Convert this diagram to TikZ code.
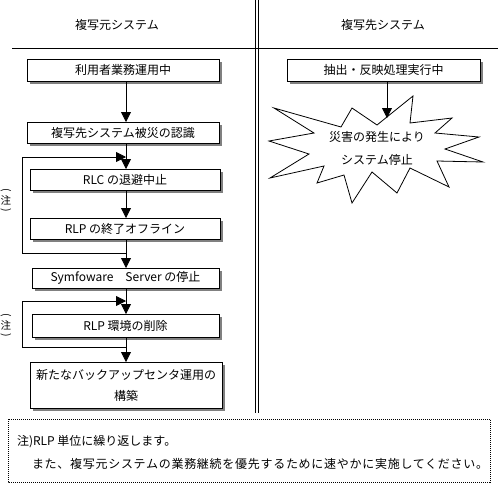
\documentclass[tikz,border=0pt]{standalone}
\usepackage{fontspec}
\setmainfont{Noto Sans CJK JP}
\usetikzlibrary{arrows.meta,shadows}
\begin{document}
\begin{tikzpicture}[x=1pt,y=-1pt,
  every node/.style={inner sep=0pt,outer sep=0pt,font=\fontsize{12pt}{14pt}\selectfont},
  stepbox/.style={draw=black,line width=0.8pt,fill=white,anchor=north west,
    drop shadow={shadow xshift=3pt,shadow yshift=-3pt,fill=black!50,opacity=1}},
  conn/.style={draw=black,line width=0.8pt},
  arr/.style={conn,-{Triangle[width=10pt,length=10pt]}},
  note/.style={font=\fontsize{10.5pt}{12pt}\selectfont}
]
\useasboundingbox (0,0) rectangle (498,483);
% frame lines
\draw[line width=0.8pt] (12,48) -- (498,48);
\draw[line width=0.8pt] (255.5,0) -- (255.5,413);
\draw[line width=0.8pt] (258,0) -- (258,413);
% headers
\node (hL) at (117,25) {複写元システム};
\node (hR) at (383,25) {複写先システム};
% spine coordinate
\coordinate (spine) at (126,0);
% left boxes
\node[stepbox,minimum width=192pt,minimum height=22pt] (b1) at (27,59) {利用者業務運用中};
\node[stepbox,minimum width=192pt,minimum height=21pt] (b2) at (27,122) {複写先システム被災の認識};
\node[stepbox,minimum width=190pt,minimum height=21pt] (b3) at (30,169) {RLC の退避中止};
\node[stepbox,minimum width=190pt,minimum height=21pt] (b4) at (30,218) {RLP の終了オフライン};
\node[stepbox,minimum width=187pt,minimum height=20pt] (b5) at (32,268) {Symfoware　Server の停止};
\node[stepbox,minimum width=187pt,minimum height=23pt] (b6) at (32,314) {RLP 環境の削除};
\node[stepbox,minimum width=192pt,minimum height=46pt,align=center,
  font=\fontsize{12pt}{21pt}\selectfont] (b7) at (30,362) {新たなバックアップセンタ運用の\\構築};
% spine arrows
\draw[arr] (b1.south -| spine) -- (b2.north -| spine);
\draw[arr] (b2.south -| spine) -- (b3.north -| spine);
\draw[arr] (b3.south -| spine) -- (b4.north -| spine);
\draw[arr] (b4.south -| spine) -- (b5.north -| spine);
\draw[arr] (b5.south -| spine) -- (b6.north -| spine);
\draw[arr] (b6.south -| spine) -- (b7.north -| spine);
% loops
\coordinate (j1) at (126,157);
\coordinate (l1a) at (22,157);
\coordinate (l1b) at (22,253);
\coordinate (k1) at (126,253);
\draw[arr] (k1) -- (l1b) -- (l1a) -- (j1);
\coordinate (j2) at (126,301);
\coordinate (l2a) at (22,301);
\coordinate (l2b) at (22,347);
\coordinate (k2) at (126,347);
\draw[arr] (k2) -- (l2b) -- (l2a) -- (j2);
% vertical notes
\node[note,rotate=-90] (n1o) at (6,190) {(};
\node[note] (n1) at (6,200) {注};
\node[note,rotate=-90] (n1c) at (6,210) {)};
\node[note,rotate=-90] (n2o) at (6,315) {(};
\node[note] (n2) at (6,325) {注};
\node[note,rotate=-90] (n2c) at (6,335) {)};
% right side
\node[stepbox,minimum width=193pt,minimum height=22pt] (r1) at (287,59) {抽出・反映処理実行中};
\draw[line width=0.8pt,fill=white] (274,108) -- (341,127) -- (352,108) -- (377,125) -- (413,96)
  -- (410,123) -- (452,118) -- (435,133) -- (479,137) -- (445,149) -- (483,162)
  -- (437,161) -- (449,187) -- (410,168) -- (397,193) -- (372,172) -- (352,203)
  -- (344,175) -- (317,183) -- (324,166) -- (270,178) -- (309,154) -- (269,141)
  -- (314,133) -- cycle;
\coordinate (starTop) at (387,118);
\draw[arr] (r1.south -| starTop) -- (starTop);
\node[align=center,font=\fontsize{12pt}{23pt}\selectfont] (st) at (377,148.5) {災害の発生により\\システム停止};
% bottom note
\draw[line width=1pt,dash pattern=on 1pt off 1pt] (8,419) rectangle (490,482);
\node[anchor=west] (t1) at (17,442) {注)RLP 単位に繰り返します。};
\node[anchor=west,font=\fontsize{12pt}{14pt}\selectfont\addfontfeature{LetterSpace=6}] (t2) at (32,464) {また、複写元システムの業務継続を優先するために速やかに実施してください。};
\end{tikzpicture}
\end{document}
